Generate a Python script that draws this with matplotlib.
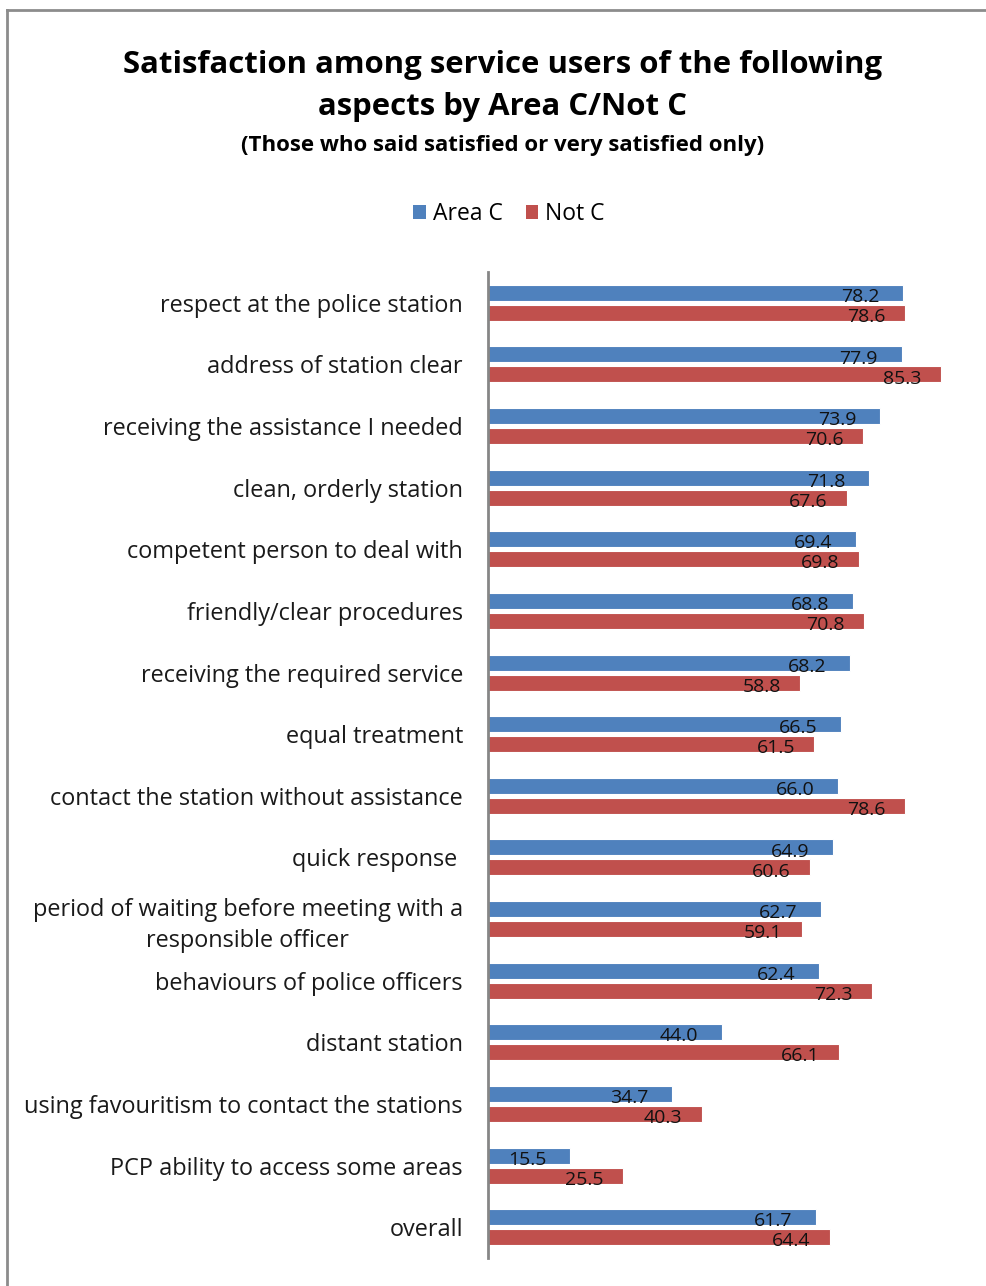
import matplotlib
matplotlib.use("Agg")
import matplotlib.pyplot as plt
from matplotlib.lines import Line2D
from matplotlib.patches import Patch
import numpy as np

categories = [
    "respect at the police station",
    "address of station clear",
    "receiving the assistance I needed",
    "clean, orderly station",
    "competent person to deal with",
    "friendly/clear procedures",
    "receiving the required service",
    "equal treatment",
    "contact the station without assistance",
    "quick response ",
    "period of waiting before meeting with a\nresponsible officer",
    "behaviours of police officers",
    "distant station",
    "using favouritism to contact the stations",
    "PCP ability to access some areas",
    "overall",
]
area_c = [78.2, 77.9, 73.9, 71.8, 69.4, 68.8, 68.2, 66.5, 66.0, 64.9, 62.7, 62.4, 44.0, 34.7, 15.5, 61.7]
not_c = [78.6, 85.3, 70.6, 67.6, 69.8, 70.8, 58.8, 61.5, 78.6, 60.6, 59.1, 72.3, 66.1, 40.3, 25.5, 64.4]
series_names = ["Area C", "Not C"]

BLUE = "#4F81BD"
RED = "#C0504D"
LABEL_FONT = ["Open Sans", "DejaVu Sans"]
TITLE_FONT = ["Open Sans", "DejaVu Sans"]

W, H = 987, 1286
fig = plt.figure(figsize=(W / 100, H / 100), dpi=100)

# outer chart frame (top and left edges visible)
fig.add_artist(Line2D([7 / W, 1.0], [1 - 10 / H, 1 - 10 / H], color="#8c8c8c", lw=2))
fig.add_artist(Line2D([7 / W, 7 / W], [0.0, 1 - 10 / H], color="#8c8c8c", lw=2))

ax = fig.add_axes([488 / W, 1 - 1258 / H, (W - 488) / W, (1258 - 272) / H])
y = np.arange(len(categories))
off = 0.162
h = 0.26
ax.barh(y - off, area_c, height=h, color=BLUE, edgecolor="white", linewidth=0.8)
ax.barh(y + off, not_c, height=h, color=RED, edgecolor="white", linewidth=0.8)

for yi, v in zip(y - off, area_c):
    ax.annotate(f"{v:.1f}", (v, yi), xytext=(-17, -3), textcoords="offset points",
                ha="right", va="center", fontsize=14, family=LABEL_FONT, color="#111111")
for yi, v in zip(y + off, not_c):
    ax.annotate(f"{v:.1f}", (v, yi), xytext=(-14, -3), textcoords="offset points",
                ha="right", va="center", fontsize=14, family=LABEL_FONT, color="#111111")

ax.set_xlim(0, 94)
ax.set_ylim(len(categories) - 0.5, -0.5)
ax.set_yticks(y)
ax.set_yticklabels(categories, fontsize=16.9, family=LABEL_FONT, color="#1a1a1a",
                   multialignment="center", linespacing=1.38)
ax.tick_params(axis="y", length=0, pad=18)
ax.set_xticks([])
for s in ["top", "right", "bottom"]:
    ax.spines[s].set_visible(False)
ax.spines["left"].set_color("#868686")
ax.spines["left"].set_linewidth(2)

fig.text(503 / W, 1 - 65 / H, "Satisfaction among service users of the following",
         ha="center", va="center", fontsize=22.4, fontweight="bold", family=TITLE_FONT)
fig.text(503 / W, 1 - 107 / H, "aspects by Area C/Not C",
         ha="center", va="center", fontsize=22.4, fontweight="bold", family=TITLE_FONT)
fig.text(503 / W, 1 - 146 / H, "(Those who said satisfied or very satisfied only)",
         ha="center", va="center", fontsize=16, fontweight="bold", family=TITLE_FONT)

handles = [Patch(facecolor=BLUE), Patch(facecolor=RED)]
leg = fig.legend(handles, series_names, loc="center", bbox_to_anchor=(509 / W, 1 - 214 / H),
                 ncol=2, frameon=False, handlelength=0.55, handleheight=0.6,
                 handletextpad=0.3, columnspacing=1.0,
                 prop={"family": LABEL_FONT, "size": 16.5})

fig.savefig("out.png", dpi=100)
